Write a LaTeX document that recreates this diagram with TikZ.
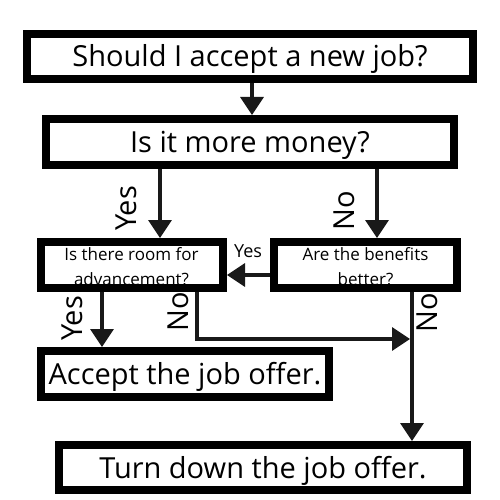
\documentclass[tikz,border=0pt]{standalone}
\usepackage{fontspec}
\setmainfont{Open Sans}
\usetikzlibrary{arrows.meta,calc}
\begin{document}
\begin{tikzpicture}[x=1pt,y=-1pt,
 box/.style={draw=black,line width=8pt,inner sep=0pt,rectangle},
 big/.style={font=\fontsize{29}{34}\selectfont, text height=21pt, text depth=0pt},
 small/.style={font=\fontsize{17}{23}\selectfont, inner sep=0pt, anchor=base},
 arr/.style={draw=black!90,line width=3.5pt,-{Triangle[width=23pt,length=18pt]}},
 lab/.style={font=\fontsize{29}{34}\selectfont, rotate=90, inner sep=0pt},
 slab/.style={font=\fontsize{18}{22}\selectfont, inner sep=0pt}]
\useasboundingbox (0,0) rectangle (500,500);
\fill[white] (0,0) rectangle (500,500);

% two-line texts, drawn first so the box borders overlap them
\node[small] (q3a) at (131.5,260) {Is there room for};
\node[small] (q3b) at (131.5,285) {advancement?};
\node[small] (q4a) at (365.5,260) {Are the benefits};
\node[small] (q4b) at (365.5,285) {better?};

\node[box,big,minimum width=446pt,minimum height=45pt] (q1) at (250,56.5) {Should I accept a new job?};
\node[box,big,minimum width=408pt,minimum height=46pt] (q2) at (250,142) {Is it more money?};
\node[box,minimum width=182pt,minimum height=46pt] (q3) at (132,265) {};
\node[box,minimum width=183pt,minimum height=46pt] (q4) at (365.5,265) {};
\node[box,big,minimum width=288pt,minimum height=46pt] (acc) at (185,374) {Accept the job offer.};
\node[box,big,minimum width=408pt,minimum height=45pt] (rej) at (263,467.5) {Turn down the job offer.};

\coordinate (a1) at ($(q2.north)+(2,0)$);
\coordinate (a2) at ($(q3.north)+(28,0)$);
\coordinate (a3) at ($(q4.north)+(11.5,0)$);
\coordinate (a4) at ($(q3.east)+(0,10)$);
\coordinate (a5) at ($(acc.north)+(-83,0)$);
\coordinate (c1) at (197,339);
\coordinate (c2) at (410,339);
\coordinate (a6) at ($(rej.north)+(149,0)$);

\draw[arr] (q1.south -| a1) -- (a1);
\draw[arr] (q2.south -| a2) -- (a2);
\draw[arr] (q2.south -| a3) -- (a3);
\draw[arr] (q4.west |- a4) -- (a4);
\draw[arr] (q3.south -| a5) -- (a5);
\draw[arr] (q3.south -| c1) -- (c1) -- (c2);
\draw[arr] (q4.south -| a6) -- (a6);

\node[lab] (y1) at (126,208.5) {Yes};
\node[lab] (n1) at (344,210.5) {No};
\node[slab] (y2) at (248,251.5) {Yes};
\node[lab] (y3) at (72,318.5) {Yes};
\node[lab] (n2) at (178,311.5) {No};
\node[lab] (n3) at (427.5,312.5) {No};
\end{tikzpicture}
\end{document}
